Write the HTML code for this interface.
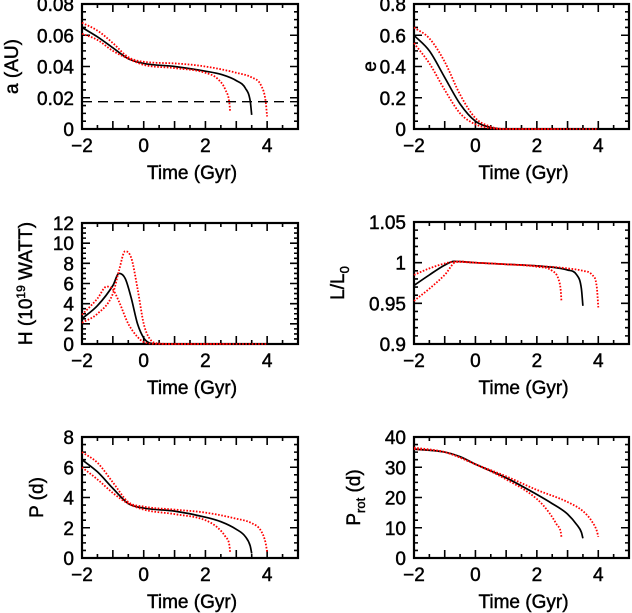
<!DOCTYPE html>
<html><head><meta charset="utf-8"><style>
body{margin:0;background:#fff}
svg{display:block}
text{font-family:"Liberation Sans",sans-serif;font-size:19px;fill:#000;stroke:#000;stroke-width:0.45}
</style></head><body>
<svg id="chart" width="632" height="613" viewBox="0 0 632 613" xmlns="http://www.w3.org/2000/svg"></svg>
<script>
// ---- data (time in Gyr) ----
const aT_blk=[-2,-1.5,-1,-0.5,0,1,2,2.5,3,3.3,3.45,3.5];
const aV_blk=[0.065,0.059,0.052,0.045,0.042,0.040,0.037,0.035,0.031,0.026,0.018,0.009];
const aT_hi=[-2,-1.5,-1,-0.5,0,1,2,3,3.5,3.8,3.95,4.0];
const aV_hi=[0.068,0.063,0.055,0.046,0.043,0.042,0.040,0.036,0.033,0.028,0.018,0.008];
const aT_lo=[-2,-1.5,-1,-0.5,0,1,2,2.4,2.65,2.78,2.8];
const aV_lo=[0.061,0.057,0.050,0.045,0.041,0.039,0.036,0.032,0.025,0.016,0.011];
const aLimit=[0.0175];

const eT_blk=[-2,-1.5,-1,-0.5,0,0.5,1,3.5];
const eV_blk=[0.60,0.50,0.33,0.16,0.05,0.01,0,0];
const eT_hi=[-2,-1.5,-1,-0.5,0,0.5,1,4];
const eV_hi=[0.65,0.58,0.43,0.22,0.07,0.015,0,0];
const eT_lo=[-2,-1.5,-1,-0.5,0,0.5,1,2.8];
const eV_lo=[0.55,0.42,0.25,0.10,0.03,0.005,0,0];

const hT_blk=[-2,-1.5,-1,-0.8,-0.6,-0.4,-0.2,0,0.2,0.5,3.5];
const hV_blk=[2.5,3.8,5.8,7.0,6.5,4.5,2.0,0.6,0.1,0,0];
const hT_hi=[-2,-1.5,-1,-0.8,-0.6,-0.4,-0.2,0,0.2,0.5,1,4];
const hV_hi=[2.1,3.0,5.0,7.3,9.2,8.5,5.5,2.0,0.5,0.05,0,0];
const hT_lo=[-2,-1.5,-1.2,-1,-0.8,-0.5,-0.2,0,0.5,2.8];
const hV_lo=[2.9,4.5,5.7,5.4,4.2,2.0,0.7,0.2,0,0];

const lT_blk=[-2,-1.5,-1,-0.7,0,1,2,3,3.3,3.45,3.5];
const lV_blk=[0.972,0.985,0.997,1.0015,1.0,0.998,0.996,0.991,0.985,0.968,0.947];
const lT_hi=[-2,-1.5,-1,-0.7,0,1,2,3,3.5,3.8,3.95,4.0];
const lV_hi=[0.985,0.993,0.999,1.001,1.0,0.998,0.996,0.993,0.99,0.985,0.97,0.945];
const lT_lo=[-2,-1.5,-1,-0.6,0,1,2,2.5,2.7,2.78,2.8];
const lV_lo=[0.953,0.968,0.985,1.0015,1.0,0.998,0.995,0.99,0.98,0.965,0.953];

const pT_blk=[-2,-1.5,-1,-0.5,0,1,2,2.5,3,3.3,3.45,3.5];
const pV_blk=[6.5,5.7,4.6,3.6,3.3,3.1,2.7,2.4,1.9,1.4,0.8,0.3];
const pT_hi=[-2,-1.5,-1,-0.5,0,1,2,3,3.5,3.8,3.95,4.0];
const pV_hi=[7.0,6.3,5.0,3.7,3.4,3.2,3.0,2.6,2.3,1.8,1.0,0.4];
const pT_lo=[-2,-1.5,-1,-0.5,0,1,2,2.4,2.65,2.78,2.8];
const pV_lo=[6.0,5.2,4.3,3.6,3.2,2.9,2.5,2.0,1.4,0.8,0.4];

const rT_blk=[-2,-1,-0.5,0,1,2,2.5,3,3.3,3.45,3.5];
const rV_blk=[36,35,33.5,31,26.5,21,18,14.5,11,8.5,6.5];
const rT_hi=[-2,-1,0,1,2,3,3.5,3.8,3.95,4];
const rV_hi=[36,35,31,27,22.5,18.5,15.5,12,9,7];
const rT_lo=[-2,-1,0,1,2,2.4,2.65,2.78,2.8];
const rV_lo=[36.5,35,31,26,19.5,15,11,8.5,7];

const xTicks=["\u22122","0","2","4"];
const xTickVals=[-2,0,2,4];

const NS="http://www.w3.org/2000/svg";
const svg=document.getElementById('chart');
function mk(tag,attrs,parent){const e=document.createElementNS(NS,tag);for(const k in attrs)e.setAttribute(k,attrs[k]);(parent||svg).appendChild(e);return e;}

// monotone cubic (Fritsch-Carlson) path in pixel space
function smoothPath(px,py){
 const n=px.length;if(n<2)return '';
 const dx=[],m=[];for(let i=0;i<n-1;i++){dx.push(px[i+1]-px[i]);m.push((py[i+1]-py[i])/dx[i]);}
 const tg=[m[0]];
 for(let i=1;i<n-1;i++){tg.push(m[i-1]*m[i]<=0?0:(m[i-1]+m[i])/2);}
 tg.push(m[n-2]);
 for(let i=0;i<n-1;i++){if(m[i]===0){tg[i]=0;tg[i+1]=0;continue;}const a=tg[i]/m[i],b=tg[i+1]/m[i],s=a*a+b*b;if(s>9){const t=3/Math.sqrt(s);tg[i]=t*a*m[i];tg[i+1]=t*b*m[i];}}
 let d=`M${px[0].toFixed(1)},${py[0].toFixed(1)}`;
 for(let i=0;i<n-1;i++){const h=dx[i]/3;d+=`C${(px[i]+h).toFixed(1)},${(py[i]+tg[i]*h).toFixed(1)} ${(px[i+1]-h).toFixed(1)},${(py[i+1]-tg[i+1]*h).toFixed(1)} ${px[i+1].toFixed(1)},${py[i+1].toFixed(1)}`;}
 return d;
}

const panels=[
 {name:'semimajor-axis',x0:82,x1:298,y0:4,y1:129,ymin:0,ymax:0.08,maj:0.02,min:0.005,labs:["0","0.02","0.04","0.06","0.08"],lx:10,ylabel:'a (AU)',
  series:[[aT_blk,aV_blk,'b'],[aT_hi,aV_hi,'r'],[aT_lo,aV_lo,'r']],limit:true},
 {name:'eccentricity',x0:414,x1:629,y0:4,y1:129,ymin:0,ymax:0.8,maj:0.2,min:0.05,labs:["0","0.2","0.4","0.6","0.8"],lx:368,ylabel:'e',
  series:[[eT_blk,eV_blk,'b'],[eT_hi,eV_hi,'r'],[eT_lo,eV_lo,'r']]},
 {name:'tidal-heating',x0:82,x1:298,y0:223,y1:344,ymin:0,ymax:12,maj:2,min:0.5,labs:["0","2","4","6","8","10","12"],lx:24,ylabel:'H',
  series:[[hT_blk,hV_blk,'b'],[hT_hi,hV_hi,'r'],[hT_lo,hV_lo,'r']]},
 {name:'luminosity',x0:414,x1:629,y0:222,y1:344,ymin:0.9,ymax:1.05,maj:0.05,min:0.01,labs:["0.9","0.95","1","1.05"],lx:336,ylabel:'L',
  series:[[lT_blk,lV_blk,'b'],[lT_hi,lV_hi,'r'],[lT_lo,lV_lo,'r']]},
 {name:'orbital-period',x0:82,x1:298,y0:437,y1:558,ymin:0,ymax:8,maj:2,min:0.5,labs:["0","2","4","6","8"],lx:35,ylabel:'P (d)',
  series:[[pT_blk,pV_blk,'b'],[pT_hi,pV_hi,'r'],[pT_lo,pV_lo,'r']]},
 {name:'rotation-period',x0:414,x1:629,y0:437,y1:558,ymin:0,ymax:40,maj:10,min:2.5,labs:["0","10","20","30","40"],lx:352,ylabel:'Prot',
  series:[[rT_blk,rV_blk,'b'],[rT_hi,rV_hi,'r'],[rT_lo,rV_lo,'r']]},
];

panels.forEach(p=>{
 const g=mk('g',{});
 
 
 const X=t=>p.x0+(t+2)/7*(p.x1-p.x0);
 const Y=v=>p.y1-(v-p.ymin)/(p.ymax-p.ymin)*(p.y1-p.y0);
 let d='';
 for(let i=0;i<=14;i++){const t=-2+i*0.5;const L=(i%2===0)?8:4;const x=X(t);d+=`M${x},${p.y1}v${-L}M${x},${p.y0}v${L}`;}
 const n=Math.round((p.ymax-p.ymin)/p.min);
 for(let i=0;i<=n;i++){const v=p.ymin+i*p.min;const r=(v-p.ymin)/p.maj;const L=Math.abs(r-Math.round(r))<1e-6?8:4;const y=Y(v);d+=`M${p.x0},${y}h${L}M${p.x1},${y}h${-L}`;}
 mk('path',{d:d,stroke:'#000','stroke-width':1.6,fill:'none'},g);
 const fr=mk('rect',{x:p.x0,y:p.y0,width:p.x1-p.x0,height:p.y1-p.y0,fill:'none',stroke:'#000','stroke-width':2.2},g);
 
 
 xTickVals.forEach((t,i)=>{const tx=mk('text',{x:X(t),y:p.y1+23,'text-anchor':'middle'},g);tx.textContent=xTicks[i];
  
  });
 p.labs.forEach((s,i)=>{const v=p.ymin+i*p.maj;const tx=mk('text',{x:p.x0-8,y:Y(v)+7,'text-anchor':'end'},g);tx.textContent=s;
  
  });
 const xl=mk('text',{x:(p.x0+p.x1)/2+2,y:p.y1+50,'text-anchor':'middle'},g);xl.textContent='Time (Gyr)';
 
 
 const cy=(p.y0+p.y1)/2;
 const yl=mk('text',{x:0,y:0,transform:`translate(${p.lx+8},${cy}) rotate(-90)`,'text-anchor':'middle'},g);
 
 
 if(p.ylabel==='H'){yl.innerHTML='H (10<tspan dy="-7" font-size="12">19</tspan><tspan dy="7"> WATT)</tspan>';}
 else if(p.ylabel==='L'){yl.innerHTML='L/L<tspan dy="5" font-size="13">0</tspan>';}
 else if(p.ylabel==='Prot'){yl.innerHTML='P<tspan dy="5" font-size="13">rot</tspan><tspan dy="-5">  (d)</tspan>';}
 else yl.textContent=p.ylabel;
 p.series.forEach((s,k)=>{const [T,V,c]=s;
  const pd=smoothPath(T.map(X),V.map(Y));
  const pl=mk('path',{d:pd,fill:'none',stroke:c==='b'?'#000':'#f00','stroke-width':c==='b'?1.7:1.8,'stroke-dasharray':c==='b'?'none':'1.6 1.6'},g);
  
  });
 if(p.limit){const y=Y(aLimit[0]);const ln=mk('line',{x1:p.x0,x2:p.x1,y1:y,y2:y,stroke:'#000','stroke-width':1.4,'stroke-dasharray':'10 6'},g);
  
  }
});
</script>
</body></html>
